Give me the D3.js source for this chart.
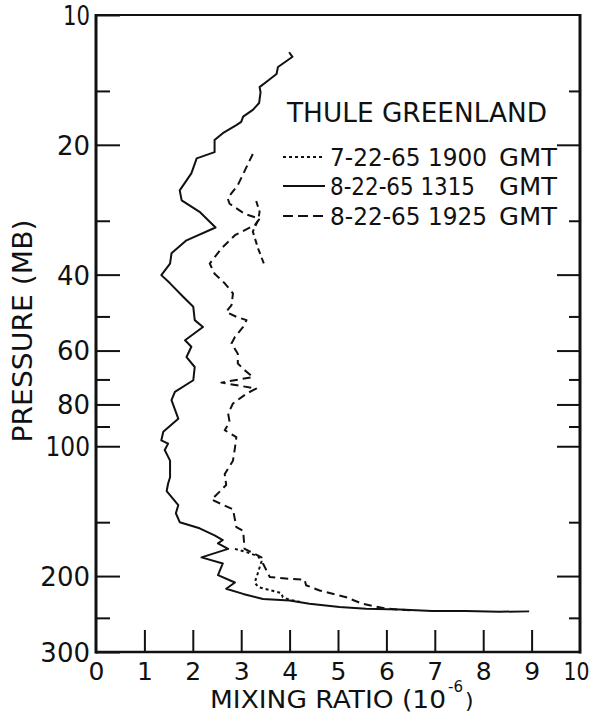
<!DOCTYPE html>
<html>
<head>
<meta charset="utf-8">
<script src="https://cdn.jsdelivr.net/npm/d3@7"></script>
<style>
  body { margin: 0; background: #fff; }
  text { font-family: "DejaVu Sans", sans-serif; fill: #111; }
</style>
</head>
<body>
<svg id="chart" width="594" height="714"></svg>
<script>
// Ozone mixing ratio profiles, Thule Greenland (pressure in mb, ratio in 10^-6)

// 8-22-65 1315 GMT (solid)
const p1315 = [12.2, 12.5, 12.8, 13.2, 13.7, 14.2, 14.7, 15.1, 16.0, 16.6, 17.2, 17.7, 18.0, 18.8, 19.5,
  20.8, 21.5, 23.3, 25.5, 26.9, 28.6, 31.1, 33.3, 35.7, 37.7, 40.1, 41.9, 45.0, 47.5, 51.0,
  52.9, 56.8, 58.8, 62.1, 65.5, 70.3, 74.8, 78.2, 86.3, 92.6, 96.9, 98.6, 102, 108,
  118, 122, 127, 137, 143, 150, 155, 161, 165, 168, 173, 181, 187, 199, 207, 214,
  220, 226, 228, 232, 236, 238, 239, 241, 241, 242, 241.5];
const r1315 = [3.99, 4.06, 3.93, 3.76, 3.73, 3.55, 3.38, 3.40, 3.37, 3.24, 3.04, 3.00, 2.90, 2.62, 2.45,
  2.45, 2.08, 1.97, 1.73, 1.77, 2.14, 2.47, 1.87, 1.56, 1.53, 1.35, 1.53, 1.80, 2.01, 2.04,
  2.21, 1.84, 1.97, 1.87, 2.04, 2.01, 1.63, 1.56, 1.70, 1.39, 1.35, 1.49, 1.42, 1.53,
  1.53, 1.49, 1.46, 1.70, 1.65, 1.73, 2.14, 2.45, 2.62, 2.52, 2.73, 2.18, 2.62, 2.52, 2.87, 2.69,
  3.04, 3.45, 4.00, 4.41, 5.03, 5.58, 6.27, 6.95, 7.64, 8.33, 8.95];

// 8-22-65 1925 GMT (dashed)
const p1925 = [21.0, 24.8, 26.6, 27.4, 28.9, 29.7, 30.7, 32.4, 34.8, 37.7, 39.8, 41.9, 44.2, 47.1, 48.8,
  50.1, 51.0, 52.9, 55.8, 57.8, 61.0, 64.3, 66.6, 69.1, 71.2, 73.5, 75.5, 79.6, 84.0, 87.8,
  91.8, 95.2, 101, 108, 116, 123, 133, 140, 154, 157, 173, 181, 187, 201, 203, 204, 210,
  216, 224, 232, 238, 240.5];
const r1925 = [3.24, 2.93, 2.72, 2.76, 3.07, 3.38, 3.28, 2.87, 2.59, 2.35, 2.45, 2.66, 2.83, 2.80, 2.69,
  2.90, 3.11, 3.04, 2.87, 2.80, 2.93, 2.93, 3.07, 3.24, 2.59, 3.31, 3.11, 2.83, 2.73, 2.76,
  2.66, 2.90, 2.87, 2.83, 2.66, 2.69, 2.39, 2.83, 2.90, 3.04, 3.07, 3.42, 3.45, 3.59, 4.00, 4.31, 4.34,
  4.62, 5.17, 5.51, 5.99, 6.60];

// 8-22-65 1925 GMT, upper branch near 30 mb (dashed)
const p1925b = [27.0, 28.6, 29.9, 31.8, 34.8, 38.0];
const r1925b = [3.31, 3.38, 3.35, 3.24, 3.35, 3.48];

// 7-22-65 1900 GMT (dotted)
const p1900 = [173, 176, 180, 185, 191, 196, 207, 212, 216, 219, 224, 227, 229.5];
const r1900 = [2.87, 3.11, 3.35, 3.42, 3.38, 3.35, 3.28, 3.35, 3.62, 3.83, 3.86, 4.00, 4.21];

const pressureLabels = [10, 20, 40, 60, 80, 100, 200, 300];
const pressureMinor = [15, 30, 50, 70, 90, 150, 250];
const ratioLabels = [0, 1, 2, 3, 4, 5, 6, 7, 8, 9, 10];
const ratioTicks = [1, 2, 3, 4, 5, 6, 7, 8, 9];

const legendTitle = "THULE GREENLAND";
const legendDates = ["7-22-65 1900", "8-22-65 1315", "8-22-65 1925"];

const svg = d3.select("#chart");
const x = d3.scaleLinear().domain([0, 10]).range([96, 580]);
const y = d3.scaleLog().domain([10, 300]).range([15, 652]);
const ink = "#111";

// multi-digit labels with a "1" are set narrower, as in the lettering
const narrowLen = d => (String(d).length > 1 && String(d).includes("1"))
  ? String(d).split("").reduce((w, c) => w + (c === "1" ? 9.5 : 17.5), 0) : null;

function styleAxis(g) {
  g.select(".domain").remove();
  g.selectAll(".tick line").attr("stroke", ink).attr("stroke-width", 2);
  g.attr("font-family", null).attr("font-size", null);
}

// left axis: labelled ticks and minor ticks
svg.append("g").attr("transform", "translate(96,0)")
  .call(d3.axisLeft(y).tickValues(pressureLabels).tickSize(-24).tickPadding(6).tickFormat(d3.format("d")))
  .call(styleAxis)
  .selectAll("text").attr("font-size", 26).attr("dy", "0.36em")
  .attr("textLength", narrowLen).attr("lengthAdjust", "spacingAndGlyphs");
svg.append("g").attr("transform", "translate(96,0)")
  .call(d3.axisLeft(y).tickValues(pressureMinor).tickSize(-14).tickFormat(""))
  .call(styleAxis);

// right axis mirrors the left ticks
svg.append("g").attr("transform", "translate(580,0)")
  .call(d3.axisRight(y).tickValues(pressureLabels.filter(d => d > 10 && d < 300)).tickSize(-23).tickFormat(""))
  .call(styleAxis);
svg.append("g").attr("transform", "translate(580,0)")
  .call(d3.axisRight(y).tickValues(pressureMinor).tickSize(-11).tickFormat(""))
  .call(styleAxis);

// bottom axis
svg.append("g").attr("transform", "translate(0,652)")
  .call(d3.axisBottom(x).tickValues(ratioTicks).tickSize(-22).tickFormat(""))
  .call(styleAxis);
svg.append("g").attr("transform", "translate(0,652)")
  .call(d3.axisBottom(x).tickValues(ratioLabels).tickSize(0).tickPadding(10).tickFormat(d3.format("d")))
  .call(styleAxis)
  .selectAll("text").attr("font-size", 25)
  .attr("dx", d => d === 10 ? -4 : 0)
  .attr("textLength", d => d === 10 ? 26 : narrowLen(d)).attr("lengthAdjust", "spacingAndGlyphs");

// frame
const frame = svg.append("g").attr("stroke", ink).attr("fill", "none");
frame.append("line").attr("x1", 96).attr("x2", 96).attr("y1", 14).attr("y2", 653.5).attr("stroke-width", 3);
frame.append("line").attr("x1", 96).attr("x2", 580).attr("y1", 15).attr("y2", 15).attr("stroke-width", 2);
frame.append("line").attr("x1", 580).attr("x2", 580).attr("y1", 14).attr("y2", 653.5).attr("stroke-width", 3);
frame.append("line").attr("x1", 95).attr("x2", 581).attr("y1", 652).attr("y2", 652).attr("stroke-width", 2.5);

// profiles
const line = d3.line().x(d => x(d[1])).y(d => y(d[0]));
const zip = (p, r) => p.map((v, i) => [v, r[i]]);
const profiles = [
  { data: zip(p1315, r1315), dash: null },
  { data: zip(p1925, r1925), dash: "8,5" },
  { data: zip(p1925b, r1925b), dash: "6,4" },
  { data: zip(p1900, r1900), dash: "3,3" }
];
svg.append("g").selectAll("path").data(profiles).join("path")
  .attr("d", d => line(d.data))
  .attr("fill", "none").attr("stroke", ink).attr("stroke-width", 2)
  .attr("stroke-linejoin", "round")
  .attr("stroke-dasharray", d => d.dash);

// legend
const lg = svg.append("g");
lg.append("text").attr("x", 287).attr("y", 122).attr("font-size", 26)
  .attr("textLength", 260).attr("lengthAdjust", "spacingAndGlyphs").text(legendTitle);
const legendRows = [
  { y: 157, dash: "3,3" },
  { y: 186, dash: null },
  { y: 216, dash: "10,5" }
];
legendRows.forEach((r, i) => {
  lg.append("line").attr("x1", 283).attr("x2", 325).attr("y1", r.y).attr("y2", r.y)
    .attr("stroke", ink).attr("stroke-width", 2).attr("stroke-dasharray", r.dash);
  const base = r.y + 9;
  lg.append("text").attr("x", 330).attr("y", base).attr("font-size", 25)
    .attr("textLength", i === 1 ? 145 : 157).attr("lengthAdjust", "spacingAndGlyphs")
    .text(legendDates[i]);
  lg.append("text").attr("x", 499).attr("y", base).attr("font-size", 25)
    .attr("textLength", 58).attr("lengthAdjust", "spacingAndGlyphs").text("GMT");
});

// axis titles
svg.append("text").attr("transform", "translate(32,331) rotate(-90)")
  .attr("text-anchor", "middle").attr("font-size", 26)
  .attr("textLength", 223).attr("lengthAdjust", "spacingAndGlyphs")
  .text("PRESSURE (MB)");
svg.append("text").attr("x", 210).attr("y", 708).attr("font-size", 24)
  .attr("textLength", 236).attr("lengthAdjust", "spacingAndGlyphs")
  .text("MIXING RATIO (10");
svg.append("text").attr("x", 448).attr("y", 692).attr("font-size", 15)
  .attr("textLength", 15).attr("lengthAdjust", "spacingAndGlyphs").text("-6");
svg.append("text").attr("x", 465).attr("y", 708).attr("font-size", 22).text(")");
</script>
</body>
</html>
